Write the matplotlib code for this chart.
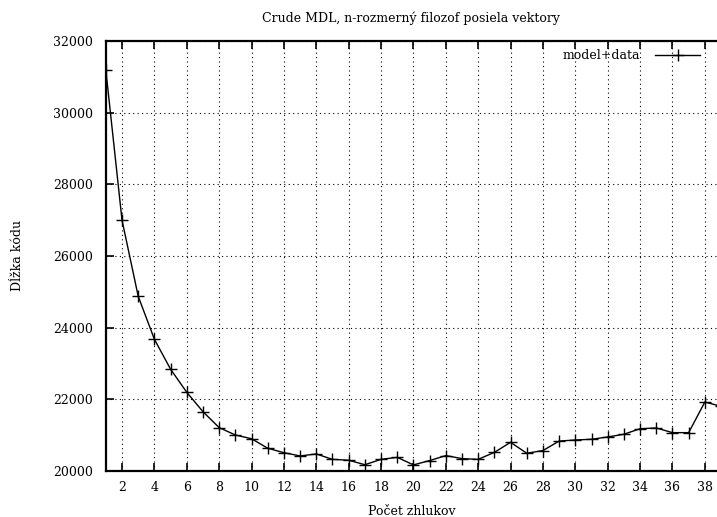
import matplotlib
matplotlib.use("Agg")
import matplotlib.pyplot as plt
from matplotlib.ticker import MultipleLocator

# cluster counts and total code length (model + data)
clusters = list(range(1, 40))
code_length = [
    31190, 27000, 24875, 23675, 22840, 22195, 21655, 21210, 21005, 20900,
    20635, 20510, 20420, 20475, 20325, 20300, 20175, 20325, 20380, 20170,
    20290, 20430, 20345, 20325, 20520, 20800, 20495, 20570, 20835, 20865,
    20885, 20950, 21025, 21180, 21200, 21070, 21070, 21925, 21805,
]

plt.rcParams["font.family"] = ["DejaVu Serif"]
plt.rcParams["font.size"] = 9

fig = plt.figure(figsize=(7.17, 5.17), dpi=100)
ax = fig.add_axes([0.1476, 0.089, 0.8524, 0.8317])

ax.plot(clusters, code_length, color="black", lw=1.0, marker="+",
        markersize=8.5, markeredgewidth=1.0, label="model+data")

ax.set_xlim(1, 38.75)
ax.set_ylim(20000, 32000)
ax.xaxis.set_major_locator(MultipleLocator(2))
ax.yaxis.set_major_locator(MultipleLocator(2000))

ax.grid(True, color="black", linestyle=(0, (1, 3)), linewidth=0.8)
ax.tick_params(direction="in", length=6, width=1.2, top=True, right=False,
               labelsize=9)
ax.tick_params(axis="y", pad=9)
ax.tick_params(axis="x", pad=7)
for side in ["left", "bottom", "top"]:
    ax.spines[side].set_linewidth(1.6)
ax.spines["right"].set_visible(False)

ax.set_title("Crude MDL, n-rozmerný filozof posiela vektory", fontsize=9, pad=14)
ax.set_xlabel("Počet zhlukov", fontsize=9, labelpad=8)
ax.set_ylabel("Dĺžka kódu", fontsize=9, labelpad=21)

ax.legend(loc="upper right", frameon=False, fontsize=9, markerfirst=False,
          handlelength=3.6, handletextpad=1.2, borderaxespad=0, borderpad=0,
          bbox_to_anchor=(700 / 717, 1 - 49 / 517),
          bbox_transform=fig.transFigure)

fig.savefig("out.png", dpi=100)
